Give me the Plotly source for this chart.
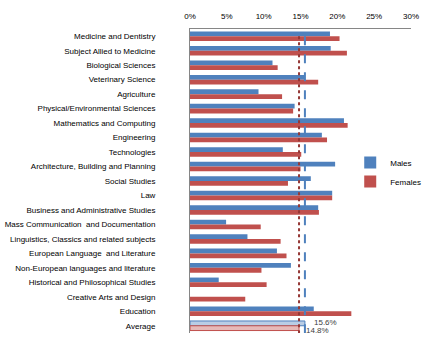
import plotly.graph_objects as go

categories = [
    "Medicine and Dentistry", "Subject Allied to Medicine", "Biological Sciences",
    "Veterinary Science", "Agriculture", "Physical/Environmental Sciences",
    "Mathematics and Computing", "Engineering", "Technologies",
    "Architecture, Building and Planning", "Social Studies", "Law",
    "Business and Administrative Studies", "Mass Communication  and Documentation",
    "Linguistics, Classics and related subjects", "European Language  and Literature",
    "Non-European languages and literature", "Historical and Philosophical Studies",
    "Creative Arts and Design", "Education", "Average",
]
males = [19.0, 19.1, 11.2, 15.6, 9.3, 14.2, 20.9, 17.9, 12.6, 19.7, 16.4, 19.3,
         17.4, 4.9, 7.8, 11.8, 13.7, 3.9, 0.0, 16.8, 15.6]
females = [20.3, 21.3, 11.9, 17.4, 12.5, 14.0, 21.4, 18.6, 15.1, 15.0, 13.3, 19.3,
           17.5, 9.6, 12.3, 13.1, 9.7, 10.4, 7.5, 21.9, 14.8]
avg_male = 15.6
avg_female = 14.8
x_ticks = [0, 5, 10, 15, 20, 25, 30]

n = len(categories)
ypos = list(range(n))

blue, red = "#4F81BD", "#C0504D"
blue_l, red_l = "#B9CDE5", "#E6B9B8"

m_colors = [blue] * (n - 1) + [blue_l]
f_colors = [red] * (n - 1) + [red_l]

fig = go.Figure()
fig.add_trace(go.Bar(
    name="Males", y=ypos, x=males, orientation="h",
    marker=dict(color=m_colors, line=dict(color=blue, width=[0] * (n - 1) + [1])),
))
fig.add_trace(go.Bar(
    name="Females", y=ypos, x=females, orientation="h",
    marker=dict(color=f_colors, line=dict(color=red, width=[0] * (n - 1) + [1])),
))
fig.add_trace(go.Scatter(
    x=[avg_male, avg_male], y=[0, n - 0.5], mode="lines", showlegend=False,
    line=dict(color=blue, width=2, dash="dash"), hoverinfo="skip",
))
fig.add_trace(go.Scatter(
    x=[avg_female, avg_female], y=[0, n - 0.5], mode="lines", showlegend=False,
    line=dict(color="#953735", width=2, dash="dot"), hoverinfo="skip",
))

fig.add_annotation(x=avg_male, y=n - 1, text=f"{avg_male:.1f}%", showarrow=False,
                   xanchor="left", yanchor="middle", xshift=7, yshift=3,
                   font=dict(size=8, color="#404040"))
fig.add_annotation(x=avg_female, y=n - 1, text=f"{avg_female:.1f}%", showarrow=False,
                   xanchor="left", yanchor="middle", xshift=5, yshift=-5,
                   font=dict(size=8, color="#404040"))

fig.update_layout(
    width=423, height=338,
    margin=dict(l=190, r=12, t=29, b=5, autoexpand=False),
    paper_bgcolor="white", plot_bgcolor="white",
    barmode="group", bargap=0.34, bargroupgap=0,
    font=dict(family="Liberation Sans, Arial", size=8, color="#000000"),
    legend=dict(x=0.725, y=0.53, xanchor="left", yanchor="middle",
                font=dict(size=8), itemwidth=30, tracegroupgap=0,
                bgcolor="rgba(0,0,0,0)"),
    showlegend=True,
)
fig.update_xaxes(
    side="top", range=[0, 30], tickvals=x_ticks,
    ticktext=[f"{v}%" for v in x_ticks], showgrid=False, zeroline=False,
    showline=True, linecolor="#868686", linewidth=1, ticks="",
    ticklabelstandoff=6, tickfont=dict(size=8),
)
fig.update_yaxes(
    range=[n - 0.5, -0.5], tickvals=ypos, ticktext=categories,
    showgrid=False, zeroline=False, showline=True, linecolor="#868686",
    linewidth=1, ticks="", ticklabelstandoff=32, tickfont=dict(size=8),
)

fig.write_html("out.html")
